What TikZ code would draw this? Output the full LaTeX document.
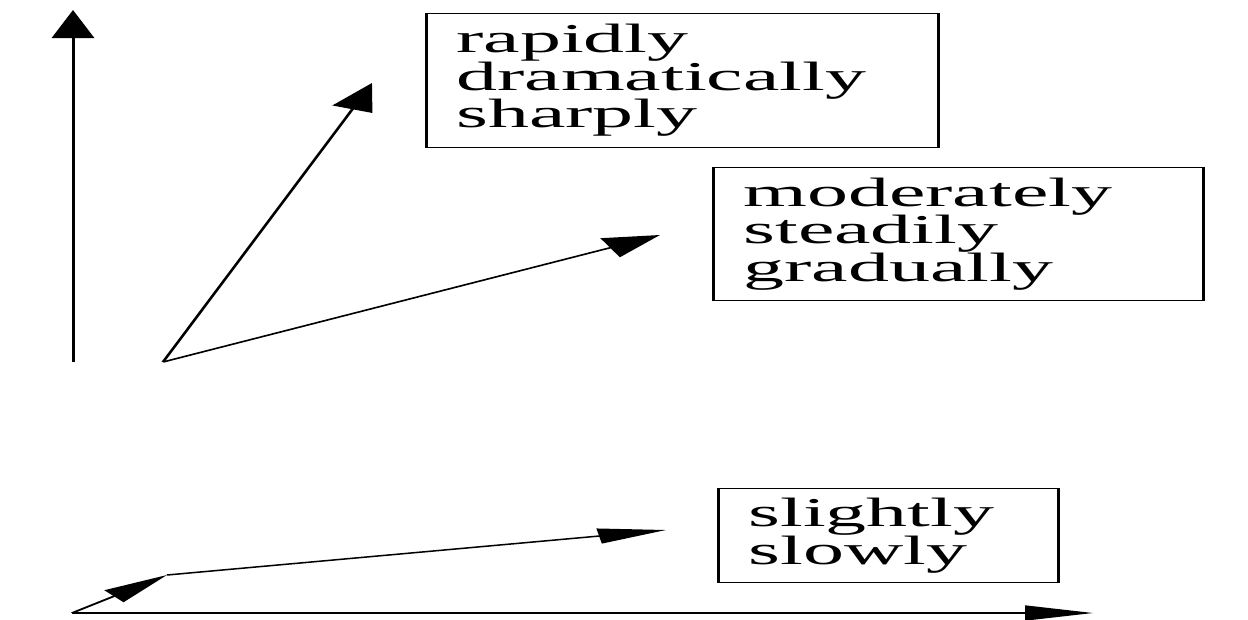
\documentclass[tikz,border=0pt]{standalone}
\usepackage{fontspec}
\setmainfont{Liberation Serif}
\usetikzlibrary{arrows.meta}

\begin{document}
\begin{tikzpicture}[x=1pt,y=-1pt,
  trend/.style={line width=1.5pt, -{Triangle[length=28pt,width=21pt]}},
  flat/.style={line width=1.5pt, -{Triangle[length=34pt,width=15pt]}},
  wordbox/.style={draw, line width=1.3pt, align=left, anchor=north west,
    inner ysep=0pt, font=\fontsize{41}{37.5}\selectfont},
]
\useasboundingbox (0,0) rectangle (1248,619);
\begin{scope}[transform canvas={xscale=2}]
% ===== value axis =====
\coordinate (vbase) at (36.5,362);
\coordinate (vtop) at (36.5,10);
\draw[trend] (vbase) -- (vtop);

% ===== steep and moderate rises =====
\coordinate (start) at (81.5,362);
\node[wordbox, minimum width=256pt, minimum height=134pt, inner xsep=15pt,
      text width=226pt] (sharp) at (212.5,13) {rapidly\\dramatically\\sharply};
\node[wordbox, minimum width=245pt, minimum height=133pt, inner xsep=15pt,
      text width=215pt] (steady) at (356,167) {moderately\\steadily\\gradually};
\coordinate (sharptip) at (186,83);
\coordinate (steadytip) at (330,235);
\draw[trend] (start) -- (sharptip);
\draw[trend] (start) -- (steadytip);

% ===== slight rise on the time axis =====
\coordinate (origin) at (36,613);
\coordinate (kink) at (83.5,575);
\coordinate (slowtip) at (333,530);
\coordinate (tend) at (546.5,613);
\node[wordbox, minimum width=170pt, minimum height=94pt, inner xsep=15pt,
      text width=140pt] (slow) at (358.5,488) {slightly\\slowly};
\draw[flat] (origin) -- (kink);
\draw[flat] (kink) -- (slowtip);
\draw[flat] (origin) -- (tend);
\end{scope}
\end{tikzpicture}
\end{document}
